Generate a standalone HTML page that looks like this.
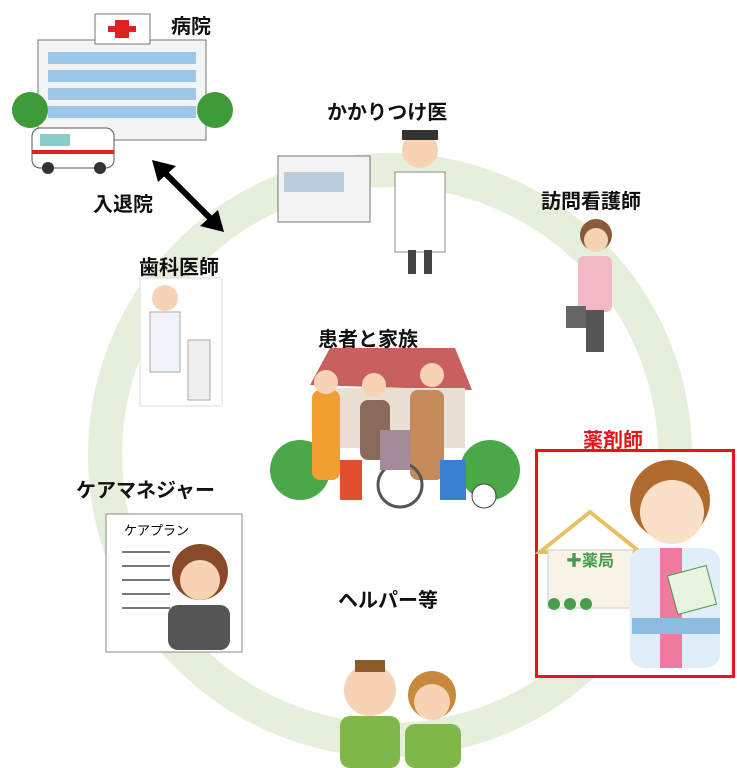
<!DOCTYPE html>
<html><head><meta charset="utf-8"><style>
body{margin:0;width:737px;height:768px;background:#fff;position:relative;overflow:hidden;font-family:"Liberation Sans","Noto Sans CJK JP",sans-serif}
.l{position:absolute;font-weight:bold;font-size:20px;color:#111;white-space:nowrap}
.a{position:absolute}
</style></head><body>
<svg class="a" style="left:0;top:0" width="737" height="768">
 <circle cx="390" cy="455" r="285" fill="none" stroke="#e6efdc" stroke-width="34"/>
 <!-- hospital -->
 <rect x="38" y="40" width="168" height="100" fill="#f2f4f6" stroke="#777"/>
 <rect x="95" y="14" width="55" height="30" fill="#fff" stroke="#777"/>
 <rect x="115" y="20" width="14" height="18" fill="#d22"/><rect x="108" y="26" width="28" height="6" fill="#d22"/>
 <g fill="#9cc7e6"><rect x="48" y="52" width="148" height="12"/><rect x="48" y="70" width="148" height="12"/><rect x="48" y="88" width="148" height="12"/><rect x="48" y="106" width="148" height="12"/></g>
 <circle cx="30" cy="110" r="18" fill="#3f9a3a"/><circle cx="215" cy="110" r="18" fill="#3f9a3a"/>
 <rect x="32" y="128" width="82" height="40" rx="8" fill="#fff" stroke="#555"/><rect x="40" y="134" width="30" height="12" fill="#8cc"/><rect x="32" y="150" width="82" height="4" fill="#d22"/>
 <circle cx="48" cy="168" r="6" fill="#333"/><circle cx="100" cy="168" r="6" fill="#333"/>
 <line x1="162" y1="170" x2="214" y2="222" stroke="#000" stroke-width="6"/>
 <polygon points="152,160 176,166 158,182" fill="#000"/><polygon points="224,232 200,226 218,210" fill="#000"/>
 <!-- clinic + doctor -->
 <rect x="278" y="156" width="92" height="66" fill="#f3f3f3" stroke="#777"/><rect x="284" y="172" width="60" height="20" fill="#bcd" />
 <rect x="395" y="172" width="50" height="80" fill="#fff" stroke="#888"/><circle cx="420" cy="150" r="18" fill="#f6d3b5"/><rect x="402" y="130" width="36" height="10" fill="#333"/>
 <rect x="408" y="250" width="8" height="24" fill="#444"/><rect x="424" y="250" width="8" height="24" fill="#444"/>
 <!-- nurse -->
 <circle cx="596" cy="235" r="16" fill="#8a5a3a"/><circle cx="596" cy="240" r="12" fill="#f6d3b5"/>
 <rect x="578" y="256" width="34" height="56" rx="6" fill="#f2b8c6"/><rect x="586" y="310" width="18" height="42" fill="#555"/><rect x="566" y="306" width="20" height="22" fill="#666"/>
 <!-- dentist -->
 <rect x="140" y="278" width="82" height="128" fill="#fff" stroke="#ddd"/><circle cx="165" cy="298" r="13" fill="#f6d3b5"/><rect x="150" y="312" width="30" height="60" fill="#f0f4f8" stroke="#aaa"/><rect x="188" y="340" width="22" height="60" fill="#eee" stroke="#aaa"/>
 <!-- family -->
 <polygon points="310,385 330,348 455,348 472,390" fill="#c86060"/><rect x="320" y="388" width="145" height="60" fill="#e9dfd2"/>
 <ellipse cx="300" cy="470" rx="30" ry="30" fill="#4aa848"/><ellipse cx="490" cy="470" rx="30" ry="30" fill="#4aa848"/>
 <rect x="312" y="390" width="28" height="90" rx="8" fill="#f0a030"/><circle cx="326" cy="382" r="12" fill="#f6d3b5"/>
 <rect x="360" y="400" width="30" height="60" rx="8" fill="#8a6a5a"/><circle cx="374" cy="385" r="12" fill="#f6d3b5"/>
 <rect x="410" y="390" width="34" height="90" rx="8" fill="#c58a5a"/><circle cx="432" cy="375" r="12" fill="#f6d3b5"/>
 <circle cx="400" cy="485" r="22" fill="none" stroke="#555" stroke-width="3"/><rect x="380" y="430" width="30" height="40" fill="#a58a9a"/>
 <rect x="340" y="460" width="22" height="40" fill="#e05030"/><rect x="440" y="460" width="26" height="40" fill="#3a7fd0"/><circle cx="484" cy="496" r="12" fill="#fff" stroke="#444"/>
 <!-- care manager -->
 <rect x="106" y="514" width="136" height="138" fill="#fff" stroke="#888"/>
 <g stroke="#777" stroke-width="2"><line x1="122" y1="552" x2="170" y2="552"/><line x1="122" y1="566" x2="170" y2="566"/><line x1="122" y1="580" x2="170" y2="580"/><line x1="122" y1="594" x2="170" y2="594"/><line x1="122" y1="608" x2="170" y2="608"/></g>
 <circle cx="200" cy="572" r="28" fill="#8a4a2a"/><circle cx="200" cy="580" r="20" fill="#f6d3b5"/><rect x="168" y="605" width="62" height="45" rx="10" fill="#555"/>
 <!-- helpers -->
 <circle cx="370" cy="690" r="26" fill="#f6d3b5"/><rect x="355" y="660" width="30" height="12" fill="#8a5a2a"/><rect x="340" y="716" width="60" height="52" rx="10" fill="#7fb848"/>
 <circle cx="432" cy="695" r="24" fill="#c88a3a"/><circle cx="432" cy="702" r="18" fill="#f6d3b5"/><rect x="405" y="724" width="56" height="44" rx="10" fill="#7fb848"/>
 <!-- pharmacist box -->
 <rect x="536.5" y="450.5" width="197" height="226" fill="#fff" stroke="#e8141b" stroke-width="3"/>
 <polygon points="540,552 590,512 640,552" fill="#fff" stroke="#e8c060" stroke-width="4"/><rect x="548" y="550" width="85" height="58" fill="#f7f3e6" stroke="#ccc"/>
 <text x="566" y="566" font-size="16" font-weight="bold" fill="#4a9a4a" font-family="Liberation Sans,Noto Sans CJK JP,sans-serif">✚薬局</text>
 <g fill="#4aa04a"><circle cx="554" cy="604" r="6"/><circle cx="570" cy="604" r="6"/><circle cx="586" cy="604" r="6"/></g>
 <circle cx="670" cy="500" r="40" fill="#b06a30"/><circle cx="672" cy="512" r="32" fill="#fbe0c8"/>
 <rect x="630" y="548" width="90" height="120" rx="14" fill="#dfeef8"/><rect x="660" y="548" width="22" height="120" fill="#f07aa0"/>
 <rect x="672" y="570" width="40" height="40" fill="#e8f4e0" stroke="#4a9a4a" transform="rotate(-15 692 590)"/>
 <rect x="632" y="618" width="88" height="16" fill="#8abde0"/>
</svg>
<div class="l" style="left:171px;top:10px">病院</div>
<div class="l" style="left:93px;top:188px">入退院</div>
<div class="l" style="left:327px;top:96px">かかりつけ医</div>
<div class="l" style="left:541px;top:185px">訪問看護師</div>
<div class="l" style="left:139px;top:251px">歯科医師</div>
<div class="l" style="left:318px;top:323px">患者と家族</div>
<div class="l" style="left:583px;top:424px;color:#e8141b">薬剤師</div>
<div class="l" style="left:76px;top:474px">ケアマネジャー</div>
<div class="l" style="left:338px;top:584px">ヘルパー等</div>
<div class="a" style="left:124px;top:520px;font-size:13px">ケアプラン</div>
</body></html>
